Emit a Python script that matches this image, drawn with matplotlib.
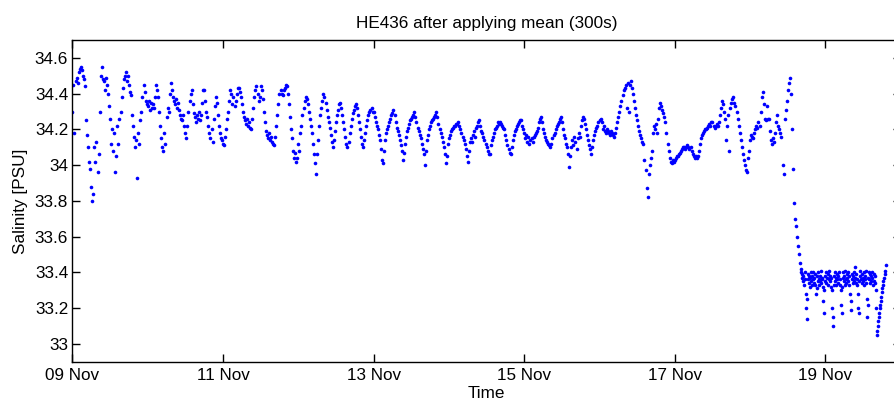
import numpy as np
import pandas as pd
import matplotlib
matplotlib.use('Agg')
import matplotlib.pyplot as plt
import matplotlib.dates as mdates
from matplotlib.ticker import FuncFormatter

# salinity [PSU], one value every 20 minutes
nov09 = [34.30, 34.45, 34.18, 34.47, 34.49, 34.46, 34.52, 34.54, 34.55,
         34.53, 34.50, 34.48, 34.44, 34.25, 34.17, 34.10, 34.02, 33.98,
         33.88, 33.80, 33.84, 34.10, 34.02, 34.13, 33.96, 34.06, 34.30,
         34.50, 34.55, 34.48, 34.47, 34.42, 34.49, 34.45, 34.40, 34.33,
         34.26, 34.12, 34.20, 34.08, 34.18, 33.96, 34.05, 34.22, 34.12,
         34.26, 34.30, 34.38, 34.43, 34.48, 34.50, 34.52, 34.47, 34.50,
         34.45, 34.41, 34.39, 34.28, 34.22, 34.16, 34.10, 34.14, 33.93,
         34.18, 34.12, 34.25, 34.30, 34.38, 34.45, 34.41, 34.36, 34.34]
nov10 = [34.33, 34.36, 34.31, 34.35, 34.32, 34.34, 34.32, 34.38, 34.45,
         34.42, 34.38, 34.30, 34.22, 34.15, 34.10, 34.08, 34.18, 34.12,
         34.27, 34.32, 34.30, 34.40, 34.46, 34.42, 34.38, 34.36, 34.34,
         34.37, 34.32, 34.35, 34.31, 34.28, 34.26, 34.25, 34.28, 34.22,
         34.18, 34.15, 34.22, 34.30, 34.36, 34.40, 34.42, 34.34, 34.29,
         34.27, 34.24, 34.28, 34.26, 34.30, 34.25, 34.28, 34.35, 34.42,
         34.42, 34.36, 34.30, 34.27, 34.22, 34.18, 34.15, 34.20, 34.13,
         34.26, 34.33, 34.38, 34.35, 34.28, 34.22, 34.18, 34.15, 34.14]
nov11 = [34.12, 34.11, 34.16, 34.20, 34.26, 34.30, 34.36, 34.42, 34.40,
         34.34, 34.38, 34.33, 34.36, 34.40, 34.43, 34.43, 34.41, 34.38,
         34.34, 34.30, 34.27, 34.25, 34.23, 34.26, 34.22, 34.24, 34.21,
         34.20, 34.26, 34.32, 34.38, 34.42, 34.44, 34.40, 34.36, 34.38,
         34.44, 34.42, 34.37, 34.30, 34.24, 34.19, 34.17, 34.15, 34.18,
         34.14, 34.16, 34.13, 34.12, 34.11, 34.16, 34.22, 34.28, 34.34,
         34.40, 34.42, 34.40, 34.39, 34.42, 34.43, 34.45, 34.44, 34.40,
         34.34, 34.27, 34.20, 34.15, 34.08, 34.04, 34.07, 34.02, 34.04]
nov12 = [34.12, 34.08, 34.18, 34.22, 34.28, 34.32, 34.36, 34.38, 34.37,
         34.34, 34.30, 34.26, 34.22, 34.18, 34.12, 34.06, 34.01, 33.95,
         34.06, 34.14, 34.22, 34.28, 34.32, 34.36, 34.40, 34.38, 34.35,
         34.31, 34.27, 34.24, 34.21, 34.17, 34.13, 34.10, 34.14, 34.19,
         34.24, 34.28, 34.31, 34.34, 34.35, 34.32, 34.28, 34.24, 34.20,
         34.16, 34.12, 34.10, 34.13, 34.18, 34.22, 34.26, 34.29, 34.31,
         34.33, 34.34, 34.32, 34.28, 34.24, 34.20, 34.16, 34.12, 34.10,
         34.14, 34.18, 34.22, 34.25, 34.28, 34.30, 34.31, 34.32, 34.30]
nov13 = [34.30, 34.27, 34.24, 34.22, 34.20, 34.17, 34.14, 34.09, 34.03,
         34.01, 34.08, 34.14, 34.18, 34.20, 34.22, 34.24, 34.26, 34.28,
         34.29, 34.31, 34.28, 34.24, 34.21, 34.19, 34.17, 34.14, 34.11,
         34.08, 34.03, 34.07, 34.12, 34.16, 34.19, 34.21, 34.23, 34.25,
         34.26, 34.27, 34.28, 34.30, 34.27, 34.24, 34.21, 34.19, 34.17,
         34.15, 34.12, 34.09, 34.06, 34.00, 34.08, 34.14, 34.17, 34.20,
         34.22, 34.24, 34.25, 34.26, 34.27, 34.28, 34.30, 34.27, 34.23,
         34.20, 34.18, 34.16, 34.13, 34.10, 34.06, 34.01, 34.05, 34.12]
nov14 = [34.15, 34.17, 34.19, 34.20, 34.21, 34.22, 34.22, 34.23, 34.23,
         34.24, 34.22, 34.20, 34.18, 34.16, 34.14, 34.12, 34.09, 34.05,
         34.02, 34.08, 34.13, 34.15, 34.13, 34.17, 34.19, 34.16, 34.21,
         34.22, 34.24, 34.25, 34.22, 34.19, 34.18, 34.16, 34.14, 34.12,
         34.10, 34.08, 34.06, 34.06, 34.11, 34.14, 34.16, 34.18, 34.20,
         34.21, 34.22, 34.24, 34.23, 34.24, 34.23, 34.22, 34.21, 34.20,
         34.17, 34.14, 34.11, 34.09, 34.07, 34.06, 34.10, 34.14, 34.17,
         34.19, 34.20, 34.22, 34.23, 34.24, 34.25, 34.25, 34.22, 34.20]
nov15 = [34.18, 34.15, 34.17, 34.13, 34.16, 34.12, 34.14, 34.15, 34.13,
         34.16, 34.17, 34.18, 34.19, 34.21, 34.24, 34.26, 34.27, 34.24,
         34.20, 34.18, 34.16, 34.14, 34.13, 34.12, 34.11, 34.10, 34.12,
         34.15, 34.17, 34.18, 34.20, 34.22, 34.23, 34.24, 34.26, 34.27,
         34.24, 34.20, 34.17, 34.15, 34.12, 34.10, 34.06, 33.99, 34.05,
         34.10, 34.14, 34.11, 34.16, 34.13, 34.09, 34.15, 34.18, 34.16,
         34.22, 34.25, 34.27, 34.26, 34.23, 34.20, 34.17, 34.14, 34.11,
         34.09, 34.06, 34.10, 34.14, 34.17, 34.19, 34.21, 34.22, 34.24]
nov16 = [34.25, 34.26, 34.24, 34.20, 34.22, 34.19, 34.18, 34.20, 34.19,
         34.18, 34.17, 34.19, 34.18, 34.17, 34.16, 34.18, 34.21, 34.24,
         34.27, 34.30, 34.33, 34.36, 34.39, 34.42, 34.43, 34.45, 34.32,
         34.46, 34.30, 34.45, 34.47, 34.43, 34.40, 34.36, 34.32, 34.28,
         34.25, 34.22, 34.19, 34.17, 34.15, 34.13, 34.12, 34.03, 33.97,
         33.87, 33.82, 33.95, 34.00, 34.04, 34.08, 34.18, 34.22, 34.20,
         34.23, 34.18, 34.26, 34.32, 34.35, 34.33, 34.31, 34.29, 34.27,
         34.24, 34.18, 34.12, 34.08, 34.04, 34.02, 34.01, 34.03, 34.02]
nov17 = [34.03, 34.04, 34.05, 34.05, 34.06, 34.07, 34.08, 34.09, 34.10,
         34.10, 34.09, 34.10, 34.11, 34.10, 34.09, 34.10, 34.08, 34.06,
         34.05, 34.04, 34.05, 34.04, 34.05, 34.08, 34.12, 34.15, 34.17,
         34.18, 34.19, 34.20, 34.20, 34.21, 34.22, 34.23, 34.22, 34.24,
         34.24, 34.22, 34.21, 34.22, 34.23, 34.22, 34.24, 34.28, 34.32,
         34.36, 34.34, 34.30, 34.26, 34.14, 34.22, 34.28, 34.08, 34.32,
         34.35, 34.37, 34.38, 34.35, 34.33, 34.30, 34.26, 34.22, 34.18,
         34.14, 34.10, 34.06, 34.03, 34.00, 33.97, 33.96, 34.04, 34.08]
# 18 Nov up to 16:00
nov18 = [34.14, 34.17, 34.16, 34.15, 34.18, 34.20, 34.22, 34.21, 34.24,
         34.22, 34.30, 34.38, 34.41, 34.34, 34.26, 34.25, 34.33, 34.26,
         34.26, 34.19, 34.14, 34.12, 34.15, 34.13, 34.18, 34.24, 34.28,
         34.22, 34.20, 34.18, 34.16, 34.00, 33.95, 34.26, 34.31, 34.36,
         34.42, 34.46, 34.49, 34.40, 34.20, 33.98, 33.79, 33.70, 33.66,
         33.60, 33.55, 33.50]
# 18 Nov 16:00 to the end, one value every 10 minutes
tail = [33.45, 33.42, 33.40, 33.37, 33.39, 33.35,
        33.38, 33.33, 33.40, 33.36, 33.28, 33.20,
        33.14, 33.25, 33.36, 33.39, 33.34, 33.38,
        33.32, 33.37, 33.40, 33.35, 33.33, 33.38,
        33.36, 33.40, 33.34, 33.37, 33.33, 33.39,
        33.28, 33.31, 33.38, 33.35, 33.40, 33.36,
        33.33, 33.38, 33.35, 33.41, 33.34, 33.37,
        33.36, 33.32, 33.24, 33.17, 33.30, 33.38,
        33.35, 33.40, 33.34, 33.37, 33.33, 33.39,
        33.36, 33.41, 33.35, 33.38, 33.32, 33.37,
        33.30, 33.20, 33.10, 33.15, 33.33, 33.38,
        33.40, 33.35, 33.37, 33.33, 33.39, 33.36,
        33.38, 33.34, 33.40, 33.36, 33.33, 33.30,
        33.22, 33.17, 33.32, 33.37, 33.40, 33.35,
        33.38, 33.33, 33.41, 33.36, 33.34, 33.39,
        33.37, 33.35, 33.40, 33.33, 33.38, 33.28,
        33.19, 33.24, 33.36, 33.39, 33.34, 33.38,
        33.35, 33.40, 33.43, 33.37, 33.34, 33.39,
        33.36, 33.33, 33.28, 33.20, 33.17, 33.35,
        33.38, 33.41, 33.36, 33.34, 33.39, 33.37,
        33.35, 33.40, 33.33, 33.38, 33.36, 33.41,
        33.34, 33.25, 33.15, 33.22, 33.37, 33.40,
        33.36, 33.39, 33.34, 33.38, 33.35, 33.40,
        33.37, 33.33, 33.39, 33.35, 33.38, 33.34,
        33.30, 33.20, 33.07, 33.05, 33.10, 33.13,
        33.15, 33.17, 33.20, 33.22, 33.24, 33.26,
        33.29, 33.31, 33.33, 33.35, 33.37, 33.39,
        33.41, 33.44]

main = nov09 + nov10 + nov11 + nov12 + nov13 + nov14 + nov15 + nov16 + nov17 + nov18
t_main = pd.date_range('2014-11-09 00:00', periods=len(main), freq='20min')
t_tail = pd.date_range('2014-11-18 16:00', periods=len(tail), freq='10min')

time = np.concatenate([t_main.to_pydatetime(), t_tail.to_pydatetime()])
salinity = np.array(main + tail)

plt.rcParams['font.family'] = ['Liberation Sans', 'DejaVu Sans']
plt.rcParams['font.size'] = 12.3

fig = plt.figure(figsize=(8.95, 4.05), dpi=100)
# axes box runs past the right edge of the figure, like the original screenshot
ax = fig.add_axes([0.0809, 0.1069, 0.9255, 0.7943])

ax.plot(time, salinity, linestyle='none', marker='o', markersize=2.6,
        markeredgewidth=0, color=(0, 0, 1))

ax.set_xlim(pd.Timestamp('2014-11-09'), pd.Timestamp('2014-11-20'))
ax.set_ylim(32.9, 34.7)
ax.set_xticks(pd.date_range('2014-11-09', '2014-11-19', freq='2D'))
ax.xaxis.set_major_formatter(mdates.DateFormatter('%d %b'))
ax.set_yticks(np.arange(33.0, 34.61, 0.2))
ax.yaxis.set_major_formatter(FuncFormatter(lambda v, p: '%g' % round(v, 1)))

ax.tick_params(direction='in', length=5.8, width=1.0, top=True, right=True,
               labelsize=12.3, pad=3)
ax.tick_params(axis='x', pad=4.5)
for s in ax.spines.values():
    s.set_linewidth(1.0)

ax.set_title('HE436 after applying mean (300s)', fontsize=12.3, pad=8.4)
ax.set_xlabel('Time', labelpad=2.5)
ax.set_ylabel('Salinity [PSU]', labelpad=5)

fig.savefig('out.png', dpi=100)
